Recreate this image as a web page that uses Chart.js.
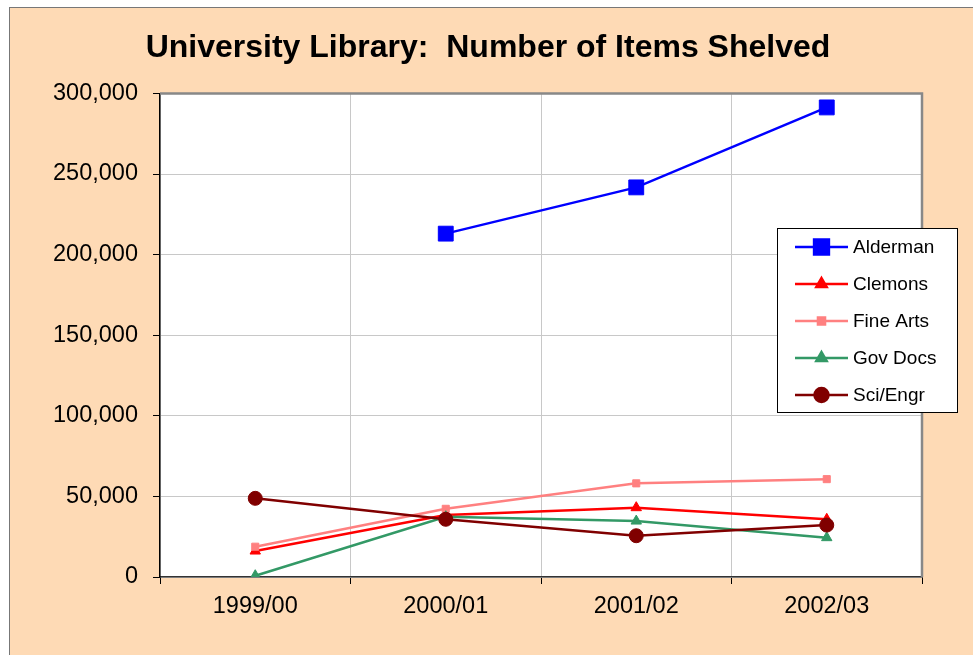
<!DOCTYPE html>
<html>
<head>
<meta charset="utf-8">
<script src="https://cdn.jsdelivr.net/npm/chart.js@4.4.1/dist/chart.umd.min.js"></script>
<style>
  body { margin: 0; background: #fff; }
  #frame {
    position: absolute; left: 9px; top: 7px;
    width: 963px; height: 647px;
    border-left: 1px solid #777; border-top: 1px solid #777;
    background: #fedab5;
  }
  #box { position: relative; width: 963px; height: 647px; }
</style>
</head>
<body>
<div id="frame"><div id="box"><canvas id="lineChart"></canvas></div></div>
<script>
const years = ["1999/00", "2000/01", "2001/02", "2002/03"];
const alderman = [null, 213000, 241700, 291300];
const clemons = [16100, 38400, 43000, 35800];
const fineArts = [18800, 42300, 58100, 60700];
const govDocs = [800, 37400, 34700, 24400];
const sciEngr = [48800, 35800, 25600, 32200];
const yTicks = [0, 50000, 100000, 150000, 200000, 250000, 300000];

// white plot area + grey frame on top/right
const plotFrame = {
    id: "plotFrame",
    beforeDraw(chart) {
        const a = chart.chartArea, ctx = chart.ctx;
        ctx.save();
        ctx.fillStyle = "#fff";
        ctx.fillRect(a.left, a.top, a.right - a.left, a.bottom - a.top);
        ctx.restore();
    },
    afterDatasetsDraw(chart) {
        const a = chart.chartArea, ctx = chart.ctx;
        ctx.save();
        ctx.strokeStyle = "#888";
        ctx.lineWidth = 2.5;
        ctx.beginPath();
        ctx.moveTo(a.left, a.top);
        ctx.lineTo(a.right, a.top);
        ctx.lineTo(a.right, a.bottom);
        ctx.stroke();
        ctx.restore();
    }
};

// boxed legend sitting over the right edge of the plot
const boxLegend = {
    id: "boxLegend",
    afterDraw(chart) {
        const ctx = chart.ctx;
        const x0 = 767, y0 = 220, w = 180, h = 184;
        ctx.save();
        ctx.fillStyle = "#fff";
        ctx.fillRect(x0, y0, w, h);
        ctx.strokeStyle = "#000";
        ctx.lineWidth = 1;
        ctx.strokeRect(x0 + 0.5, y0 + 0.5, w, h);
        ctx.font = "19px 'Liberation Sans', Arial, sans-serif";
        ctx.textBaseline = "middle";
        chart.data.datasets.forEach((ds, i) => {
            const y = 239 + i * 37;
            ctx.strokeStyle = ds.borderColor;
            ctx.lineWidth = ds.borderWidth;
            ctx.beginPath();
            ctx.moveTo(785, y);
            ctx.lineTo(838, y);
            ctx.stroke();
            ctx.fillStyle = ds.pointBackgroundColor;
            Chart.helpers.drawPoint(ctx, {
                pointStyle: ds.pointStyle,
                radius: ds.pointRadius,
                rotation: 0,
                borderWidth: 1
            }, 811.5, y);
            ctx.fillStyle = "#000";
            ctx.fillText(ds.label, 843, y + 1);
        });
        ctx.restore();
    }
};

function series(label, data, color, style, radius, order) {
    return {
        label: label,
        data: data,
        borderColor: color,
        backgroundColor: color,
        pointBackgroundColor: color,
        pointBorderColor: color,
        pointBorderWidth: 1,
        borderWidth: 2.5,
        pointStyle: style,
        pointRadius: radius,
        pointHoverRadius: radius,
        tension: 0,
        fill: false,
        order: order
    };
}

const ctx = document.getElementById("lineChart");
new Chart(ctx, {
    type: "line",
    data: {
        labels: years,
        datasets: [
            series("Alderman", alderman, "#0000ff", "rect", 10.5, 4),
            series("Clemons", clemons, "#ff0000", "triangle", 6, 3),
            series("Fine Arts", fineArts, "#ff8080", "rect", 5, 2),
            series("Gov Docs", govDocs, "#339966", "triangle", 6, 1),
            series("Sci/Engr", sciEngr, "#800000", "circle", 7, 0)
        ]
    },
    options: {
        responsive: true,
        maintainAspectRatio: false,
        animation: false,
        layout: { padding: { left: 44, right: 51, top: 0, bottom: 0 } },
        plugins: {
            legend: { display: false },
            tooltip: { enabled: false },
            title: {
                display: true,
                text: "University Library:  Number of Items Shelved",
                color: "#000",
                font: { family: "'Liberation Sans', Arial, sans-serif", size: 32, weight: "bold" },
                padding: { top: 21, bottom: 26 }
            }
        },
        scales: {
            x: {
                offset: true,
                afterFit(scale) { scale.height = 78; },
                grid: { offset: true, color: "#c8c8c8", tickColor: "#000", tickLength: 7 },
                border: { color: "#333", width: 1.5 },
                ticks: {
                    color: "#000",
                    padding: 8,
                    font: { family: "'Liberation Sans', Arial, sans-serif", size: 23.5 }
                }
            },
            y: {
                min: 0,
                max: 300000,
                afterFit(scale) { scale.width = 106; },
                afterBuildTicks(scale) { scale.ticks = yTicks.map(v => ({ value: v })); },
                grid: { color: "#c8c8c8", tickColor: "#000", tickLength: 7 },
                border: { color: "#000", width: 1.5 },
                ticks: {
                    color: "#000",
                    padding: 15,
                    font: { family: "'Liberation Sans', Arial, sans-serif", size: 23.5 },
                    callback: v => v.toLocaleString("en-US")
                }
            }
        }
    },
    plugins: [plotFrame, boxLegend]
});
</script>
</body>
</html>
